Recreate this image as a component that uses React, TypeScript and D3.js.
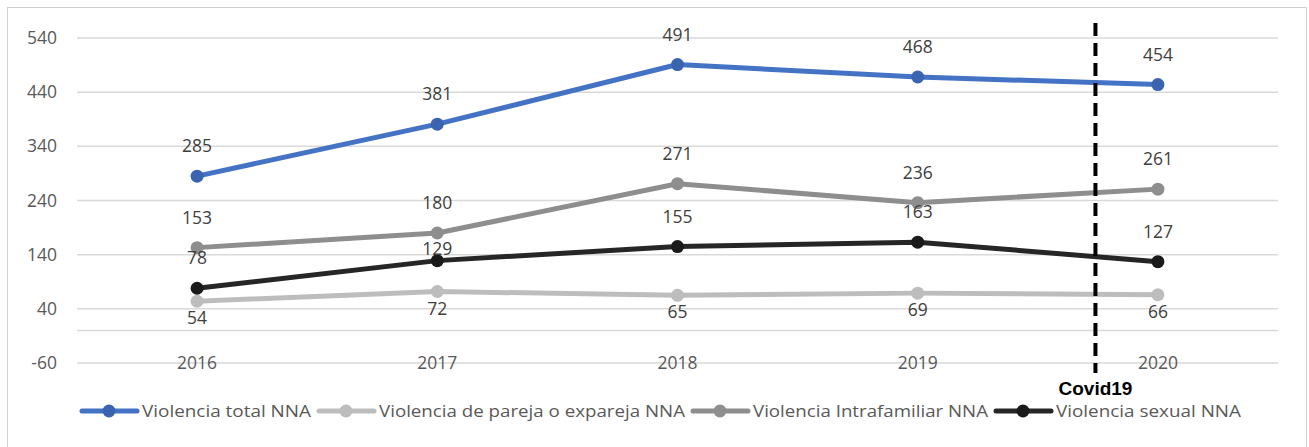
import { useEffect, useRef } from "react";
import * as d3 from "d3";

const years = ["2016", "2017", "2018", "2019", "2020"];
const total = [285, 381, 491, 468, 454];
const pareja = [54, 72, 65, 69, 66];
const intrafamiliar = [153, 180, 271, 236, 261];
const sexual = [78, 129, 155, 163, 127];
const yTicks = [-60, 40, 140, 240, 340, 440, 540];
const covidAt = 3.74; // position between 2019 and 2020 (category index)

// label offset (px) from the point, per series / per point
const labelShift = {
  total: [-30, -30, -30, -30, -30],
  pareja: [17, 17, 17, 17, 17],
  intrafamiliar: [-30, -30, -30, -30, -30],
  sexual: [-30, -12, -30, -30, -30],
};

const series = [
  { name: "Violencia total NNA", values: total, color: "#4472c4", dot: "#3a63b0", shift: labelShift.total },
  { name: "Violencia de pareja o expareja NNA", values: pareja, color: "#bdbdbd", dot: "#bdbdbd", shift: labelShift.pareja },
  { name: "Violencia Intrafamiliar NNA", values: intrafamiliar, color: "#8e8e8e", dot: "#8e8e8e", shift: labelShift.intrafamiliar },
  { name: "Violencia sexual NNA", values: sexual, color: "#262626", dot: "#1a1a1a", shift: labelShift.sexual },
];
const legendWidths = [169, 306, 235, 185];

const App = () => {
  const svgRef = useRef<SVGSVGElement>(null);

  useEffect(() => {
    const width = 1309;
    const height = 447;
    const font = "'Open Sans', 'Liberation Sans', sans-serif";
    const svg = d3.select(svgRef.current).attr("width", width).attr("height", height);
    svg.selectAll("*").remove();

    svg.append("rect")
      .attr("x", 7.5).attr("y", 7.5)
      .attr("width", 1299).attr("height", 460)
      .attr("fill", "#fff").attr("stroke", "#d0d0d0");

    const x = d3.scaleBand().domain(years).range([77, 1278]);
    const y = d3.scaleLinear().domain([-60, 540]).range([363, 38]);
    const cx = (i: number) => (x(years[i]) as number) + x.bandwidth() / 2;

    // gridlines (plus the zero axis)
    const gridVals = [...yTicks, 0];
    svg.append("g").selectAll("line").data(gridVals).enter().append("line")
      .attr("x1", 77).attr("x2", 1278)
      .attr("y1", (d) => y(d)).attr("y2", (d) => y(d))
      .attr("stroke", "#d9d9d9").attr("stroke-width", 1.5);

    svg.append("g").selectAll("text").data(yTicks).enter().append("text")
      .attr("x", 57).attr("y", (d) => y(d)).attr("dy", "0.35em")
      .attr("text-anchor", "end").attr("font-family", font).attr("font-size", 17.5)
      .attr("fill", "#595959").text((d) => d);

    svg.append("g").selectAll("text").data(years).enter().append("text")
      .attr("x", (_d, i) => cx(i)).attr("y", y(-60)).attr("dy", "0.35em")
      .attr("text-anchor", "middle").attr("font-family", font).attr("font-size", 17.5)
      .attr("fill", "#595959").text((d) => d);

    const line = d3.line<number>().x((_d, i) => cx(i)).y((d) => y(d));

    series.forEach((s) => {
      const g = svg.append("g");
      g.append("path").datum(s.values).attr("d", line)
        .attr("fill", "none").attr("stroke", s.color).attr("stroke-width", 5)
        .attr("stroke-linejoin", "round").attr("stroke-linecap", "round");
      g.selectAll("circle").data(s.values).enter().append("circle")
        .attr("cx", (_d, i) => cx(i)).attr("cy", (d) => y(d)).attr("r", 6.5)
        .attr("fill", s.dot);
      g.selectAll("text").data(s.values).enter().append("text")
        .attr("x", (_d, i) => cx(i))
        .attr("y", (d, i) => y(d) + s.shift[i]).attr("dy", "0.35em")
        .attr("text-anchor", "middle").attr("font-family", font).attr("font-size", 17.5)
        .attr("fill", "#404040").text((d) => d);
    });

    // Covid19 marker
    const covidX = cx(0) + covidAt * x.step();
    svg.append("line")
      .attr("x1", covidX).attr("x2", covidX).attr("y1", 23).attr("y2", 373)
      .attr("stroke", "#000").attr("stroke-width", 4).attr("stroke-dasharray", "13,7");
    svg.append("text")
      .attr("x", covidX).attr("y", 388).attr("dy", "0.35em")
      .attr("text-anchor", "middle").attr("font-family", "'Liberation Sans', Arial, sans-serif")
      .attr("font-weight", "bold").attr("font-size", 19).attr("fill", "#000").text("Covid19");

    // legend
    const legend = svg.append("g");
    let lx = 82;
    const ly = 411;
    series.forEach((s, i) => {
      legend.append("line").attr("x1", lx).attr("x2", lx + 55).attr("y1", ly).attr("y2", ly)
        .attr("stroke", s.color).attr("stroke-width", 5).attr("stroke-linecap", "round");
      legend.append("circle").attr("cx", lx + 27).attr("cy", ly).attr("r", 6.5).attr("fill", s.dot);
      legend.append("text").attr("x", lx + 60).attr("y", ly).attr("dy", "0.35em")
        .attr("font-family", font).attr("font-size", 17).attr("fill", "#595959")
        .attr("textLength", legendWidths[i]).attr("lengthAdjust", "spacingAndGlyphs")
        .text(s.name);
      lx += 60 + legendWidths[i] + 8;
    });
  }, []);

  return (
    <div style={{ position: "absolute", left: 0, top: 0 }}>
      <svg ref={svgRef}></svg>
    </div>
  );
};

export default App;
